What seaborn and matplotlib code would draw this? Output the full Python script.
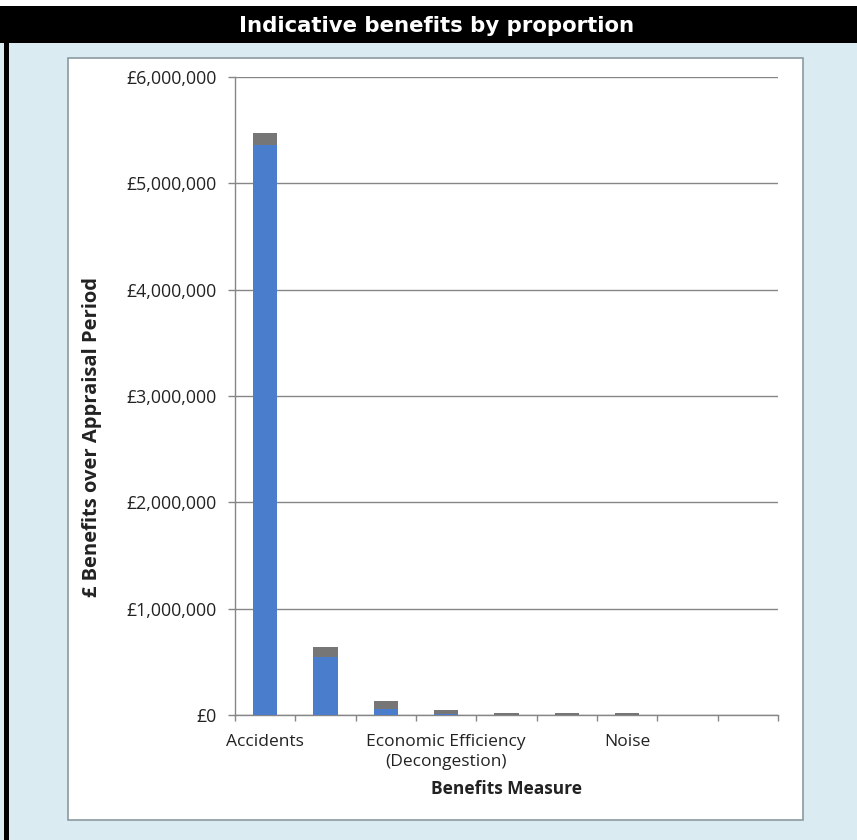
import seaborn as sns
import matplotlib.pyplot as plt
import matplotlib.patches as patches
import matplotlib.ticker as mticker
import pandas as pd

# --- data (GBP over appraisal period) ---
slots = list(range(9))
tick_labels = ["Accidents", "", "", "Economic Efficiency\n(Decongestion)", "",
               "", "Noise", "", ""]
blue_values = [5360000, 550000, 60000, 10000, 0, 0, 0, 0, 0]
grey_values = [115000, 93000, 72000, 37000, 18000, 18000, 18000, 0, 0]
y_ticks = [0, 1000000, 2000000, 3000000, 4000000, 5000000, 6000000]

BLUE = "#4a7dcc"
GREY = "#767676"
BG = "#daecf1"

df = pd.DataFrame({
    "slot": slots,
    "blue": blue_values,
    "total": [b + g for b, g in zip(blue_values, grey_values)],
})

sns.set_theme(style="white")
plt.rcParams['font.family'] = ['Open Sans', 'DejaVu Sans']

W, H = 857, 840
fig = plt.figure(figsize=(W / 100, H / 100), dpi=100)
fig.patch.set_facecolor(BG)


def fx(px):
    return px / W


def fy(py):
    return 1 - py / H


# frame pieces: white strip on top, black title bar, black left border
fig.patches.append(patches.Rectangle((0, fy(6)), 1, 6 / H, transform=fig.transFigure,
                                     facecolor="white", edgecolor="none", zorder=0))
fig.patches.append(patches.Rectangle((0, fy(43)), 1, 37 / H, transform=fig.transFigure,
                                     facecolor="black", edgecolor="none", zorder=1))
fig.patches.append(patches.Rectangle((fx(4), 0), 5 / W, fy(43), transform=fig.transFigure,
                                     facecolor="black", edgecolor="none", zorder=1))
# white chart panel
fig.patches.append(patches.Rectangle((fx(68), fy(820)), fx(803 - 68), (820 - 58) / H,
                                     transform=fig.transFigure, facecolor="white",
                                     edgecolor="#8a9aa0", linewidth=1.2, zorder=1))

fig.text(fx(437), fy(26), "Indicative benefits by proportion", color="white",
         fontsize=15.3, fontweight="bold", ha="center", va="center",
         family=["DejaVu Sans"])

ax = fig.add_axes([fx(235), fy(715), fx(778 - 235), (715 - 77) / H])
ax.set_facecolor("white")
ax.set_zorder(2)

sns.barplot(data=df, x="slot", y="total", color=GREY, width=0.4, saturation=1,
            linewidth=0, edgecolor="none", ax=ax, zorder=3)
sns.barplot(data=df, x="slot", y="blue", color=BLUE, width=0.4, saturation=1,
            linewidth=0, edgecolor="none", ax=ax, zorder=4)

ax.set_xlim(-0.5, 8.5)
ax.set_ylim(0, 6000000)
ax.set_yticks(y_ticks)
ax.yaxis.set_major_formatter(mticker.FuncFormatter(lambda v, p: f"£{v:,.0f}"))
ax.grid(axis="y", color="#868686", linewidth=1, zorder=1)
ax.set_axisbelow(True)

ax.set_xticks(slots)
ax.set_xticklabels(tick_labels, fontsize=12.5, color="#222222", linespacing=1.3)
ax.set_xticks([s - 0.5 for s in slots] + [8.5], minor=True)
ax.tick_params(axis="x", which="major", length=0, pad=14)
ax.tick_params(axis="x", which="minor", length=4, width=1, color="#868686",
               direction="out", bottom=True)
ax.tick_params(axis="y", length=5, width=1, color="#868686", direction="out",
               left=True, labelsize=12.8, labelcolor="#222222", pad=8)

for side in ["top", "right"]:
    ax.spines[side].set_visible(False)
for side in ["left", "bottom"]:
    ax.spines[side].set_color("#868686")
    ax.spines[side].set_linewidth(1)

ax.set_xlabel("Benefits Measure", fontsize=12.5, fontweight="bold", color="#222222",
              labelpad=7)
ax.set_ylabel("£ Benefits over Appraisal Period", fontsize=14.5, fontweight="bold",
              color="#222222")
ax.yaxis.set_label_coords(-0.245, 0.436)

fig.savefig("out.png", dpi=100, facecolor=fig.get_facecolor())
